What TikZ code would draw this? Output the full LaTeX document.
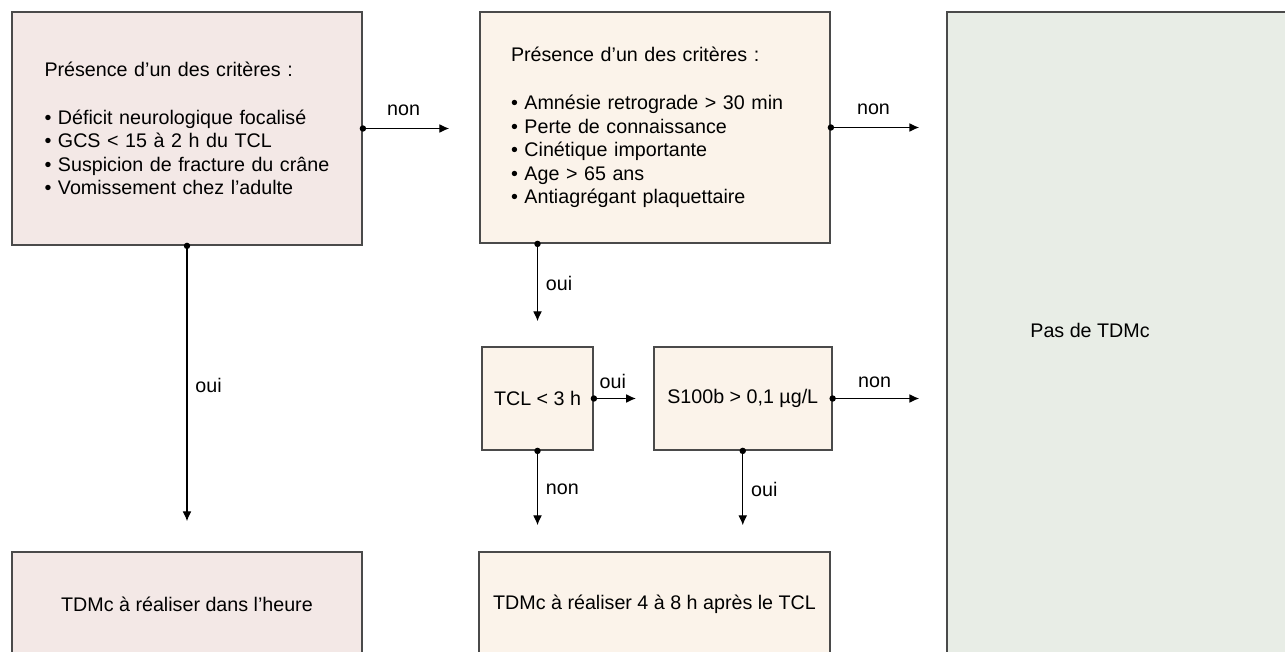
\documentclass[tikz,border=0pt]{standalone}
\usepackage{fontspec}
\setmainfont{Liberation Sans}
\usetikzlibrary{positioning, arrows.meta}
\definecolor{rose}{HTML}{F3E8E6}
\definecolor{creme}{HTML}{FBF3EA}
\definecolor{vert}{HTML}{E8EDE6}
\definecolor{bord}{HTML}{4A4A4A}
\tikzstyle{box} = [rectangle, draw=bord, line width=1pt, inner sep=0pt, align=center, font=\fontsize{11.2}{13.4}\selectfont]
\tikzstyle{rosebox} = [box, fill=rose, minimum width=7cm]
\tikzstyle{cremebox} = [box, fill=creme]
\tikzstyle{vertbox} = [box, fill=vert]
\tikzstyle{arrow} = [line width=0.6pt, {Circle[length=3.6pt]}-{Latex[length=5.5pt,width=5pt]}, shorten <=-1.8pt]
\tikzstyle{lbl} = [font=\fontsize{11.2}{13.4}\selectfont, inner sep=0pt]
\begin{document}
\begin{tikzpicture}
\useasboundingbox (0,0) rectangle (25.7,-13.02);
\clip (0,0) rectangle (25.7,-13.02);

\node (critgrave) [rosebox, minimum height=4.66cm, text width=5.7cm, align=left] at (3.74,-2.57) {Présence d’un des critères :\\[13.9pt]
• Déficit neurologique focalisé\\
• GCS < 15 à 2 h du TCL\\
\mbox{• Suspicion de fracture du crâne}\\
• Vomissement chez l’adulte};

\node (critmod) [cremebox, minimum width=7cm, minimum height=4.62cm, text width=5.76cm, align=left] at (13.1,-2.55) {Présence d’un des critères :\\[13.9pt]
• Amnésie retrograde > 30 min\\
• Perte de connaissance\\
• Cinétique importante\\
• Age > 65 ans\\
• Antiagrégant plaquettaire};

\node (pasdescan) [vertbox, minimum width=7.06cm, minimum height=13.06cm] at (22.47,-6.77) {};
\node (pasdescantxt) [lbl] at (21.8,-6.6) {Pas de TDMc};

\node (tcl) [cremebox, minimum width=2.22cm, minimum height=2.06cm] at (10.75,-7.97) {TCL < 3 h};
\node (sbeta) [cremebox, minimum width=3.56cm, minimum height=2.06cm, right=1.18cm of tcl] {S100b > 0,1 µg/L};

\node (scanheure) [rosebox, minimum height=2.08cm] at (3.74,-12.08) {TDMc à réaliser dans l’heure};
\node (scandiff) [cremebox, minimum width=7.02cm, minimum height=2.08cm] at (13.09,-12.08) {TDMc à réaliser 4 à 8 h après le TCL};

\draw [arrow, shorten >=0.6cm] (critgrave.east) -- (critgrave.east -| critmod.west) node[lbl, pos=0.35, above=7pt] {non};
\draw [arrow, shorten >=0.54cm] (critmod.east) -- (critmod.east -| pasdescan.west) node[lbl, pos=0.37, above=7pt] {non};
\draw [arrow, shorten >=0.6cm] (critgrave.south) -- (critgrave.south |- scanheure.north) node[lbl, pos=0.456, right=4.5pt] {oui};
\draw [arrow, shorten >=0.5cm] (critmod.south -| tcl.north) -- (tcl.north) node[lbl, pos=0.385, right=4.5pt] {oui};
\draw [arrow, shorten >=0.34cm] (tcl.east) -- (sbeta.west) node[lbl, pos=0.32, above=5pt] {oui};
\draw [arrow, shorten >=0.54cm] (sbeta.east) -- (sbeta.east -| pasdescan.west) node[lbl, pos=0.37, above=6pt] {non};
\draw [arrow, shorten >=0.52cm] (tcl.south) -- (tcl.south |- scandiff.north) node[lbl, pos=0.38, right=4.5pt] {non};
\draw [arrow, shorten >=0.52cm] (sbeta.south) -- (sbeta.south |- scandiff.north) node[lbl, pos=0.38, right=4.5pt] {oui};
\end{tikzpicture}
\end{document}
